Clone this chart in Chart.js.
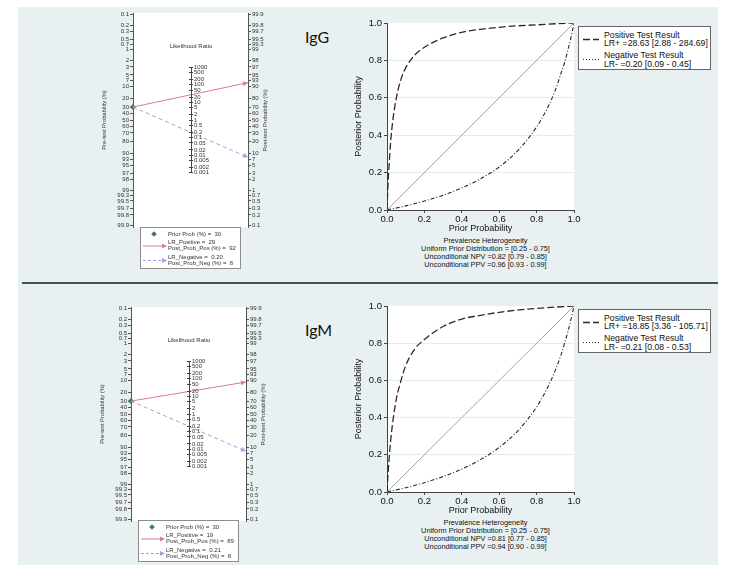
<!DOCTYPE html>
<html><head><meta charset="utf-8">
<script src="https://cdn.jsdelivr.net/npm/chart.js@4.4.1/dist/chart.umd.min.js"></script>
<style>
html,body{margin:0;padding:0;background:#fff;}
body{width:736px;height:577px;position:relative;overflow:hidden;font-family:"Liberation Sans",Arial,sans-serif;color:#111;}
.abs{position:absolute;}
canvas{position:absolute;}
#panel{left:18px;top:7px;width:700px;height:558px;background:#e8f0f2;}
#sep{left:22px;top:282px;width:696px;height:2px;background:#46505a;}
.big{font-family:Lato,"Open Sans",sans-serif;font-size:16px;line-height:18px;color:#111;white-space:nowrap;}
.nbox{background:#fff;border:1px solid #8c8c8c;box-sizing:border-box;}
.nl{position:absolute;font-size:6px;line-height:7px;white-space:pre;color:#333;}
.pbox{background:#fff;border:1px solid #666;box-sizing:border-box;}
.pl{position:absolute;font-size:8.7px;line-height:8px;white-space:pre;color:#111;}
.notes{font-size:7.3px;line-height:8px;text-align:center;white-space:pre;color:#111;}
.small{font-size:6px;line-height:7px;white-space:nowrap;color:#333;text-align:center;}
</style>
</head><body>
<div id="panel" class="abs"></div>
<div id="sep" class="abs"></div>
<script>
// ---------------- DATA ----------------
const panelNames   = ['IgG', 'IgM'];
const priorProb    = [30, 30];          // Prior Prob (%)
const lrPositive   = ['29', '19'];       // LR_Positive (legend)
const postProbPos  = [92, 89];          // Post_Prob_Pos (%)
const lrNegative   = ['0.20', '0.21'];   // LR_Negative (legend)
const postProbNeg  = [8, 8];            // Post_Prob_Neg (%)
const lrPosText    = ['28.63 [2.88 - 284.69]', '18.85 [3.36 - 105.71]'];
const lrNegText    = ['0.20 [0.09 - 0.45]', '0.21 [0.08 - 0.53]'];
const priorDistText= ['[0.25 - 0.75]', '[0.25 - 0.75]'];
const npvText      = ['0.82 [0.79 - 0.85]', '0.81 [0.77 - 0.85]'];
const ppvText      = ['0.96 [0.93 - 0.99]', '0.94 [0.90 - 0.99]'];

const preTestTicks  = [0.1,0.2,0.3,0.5,0.7,1,2,3,5,7,10,20,30,40,50,60,70,80,90,93,95,97,98,99,99.3,99.5,99.7,99.8,99.9];
const postTestTicks = [99.9,99.8,99.7,99.5,99.3,99,98,97,95,93,90,80,70,60,50,40,30,20,10,7,5,3,2,1,0.7,0.5,0.3,0.2,0.1];
const lrTicks       = [1000,500,200,100,50,20,10,5,2,1,0.5,0.2,0.1,0.05,0.02,0.01,0.005,0.002,0.001];

// posterior probability curves
const diagX   = [0, 1];
const diagY   = [0, 1];
const priorPosX = [0, 0.005, 0.01, 0.02, 0.03, 0.05, 0.075, 0.1, 0.15, 0.2, 0.3, 0.4, 0.5, 0.6, 0.7, 0.8, 0.9, 1.0];
const iggPosY   = [0, 0.13, 0.22, 0.37, 0.47, 0.60, 0.70, 0.76, 0.83, 0.87, 0.92, 0.95, 0.966, 0.977, 0.985, 0.99, 0.996, 1];
const igmPosY   = [0, 0.09, 0.16, 0.28, 0.37, 0.50, 0.60, 0.68, 0.77, 0.82, 0.89, 0.93, 0.95, 0.966, 0.978, 0.987, 0.994, 1];
const priorNegX = [0, 0.1, 0.2, 0.3, 0.4, 0.5, 0.6, 0.7, 0.8, 0.85, 0.9, 0.93, 0.95, 0.97, 0.99, 1.0];
const iggNegY   = [0, 0.022, 0.048, 0.079, 0.118, 0.167, 0.23, 0.318, 0.444, 0.53, 0.64, 0.73, 0.79, 0.866, 0.95, 1];
const igmNegY   = [0, 0.023, 0.05, 0.083, 0.123, 0.174, 0.24, 0.329, 0.457, 0.544, 0.654, 0.736, 0.80, 0.872, 0.954, 1];
const posYs = [iggPosY, igmPosY];
const negYs = [iggNegY, igmNegY];
const posteriorStep = 0.2;

// ---------------- LAYOUT ----------------
const FONT = "'Liberation Sans', Arial, Helvetica, sans-serif";
Chart.defaults.font.family = FONT;
const L = [
  {nomoLeft:100, nomoTop:0,   midX:191, nLegLeft:140, nLegTop:227, postTop:10,  postH:225, legTop:26,  notesY:241, bigTop:28},
  {nomoLeft:98,  nomoTop:294, midX:189, nLegLeft:138, nLegTop:520, postTop:293, postH:224, legTop:309, notesY:523, bigTop:321}
];
const NOMO_W = 172, NOMO_H = 240, NOMO_PAD = 13, YR = 7;
const POS = '#e07b8b', NEG = '#a2a2dc', PRIOR = '#3b7d5e';

const logit = p => Math.log(p / (1 - p));
const pts = (xs, ys) => xs.map((x, i) => ({x, y: ys[i]}));

function el(tag, cls, css, html) {
  const e = document.createElement(tag);
  if (cls) e.className = cls;
  Object.assign(e.style, css || {});
  if (html !== undefined) e.innerHTML = html;
  document.body.appendChild(e);
  return e;
}
function canvas(left, top, w, h) {
  const c = el('canvas', '', {left: left + 'px', top: top + 'px'});
  c.width = w; c.height = h;
  return c;
}

const plotBg = {
  id: 'plotBg',
  beforeDraw(chart) {
    const {ctx, chartArea: a} = chart;
    ctx.save(); ctx.fillStyle = '#fff';
    ctx.fillRect(a.left, a.top, a.right - a.left, a.bottom - a.top);
    ctx.restore();
  }
};
const arrowHeads = {
  id: 'arrowHeads',
  afterDatasetsDraw(chart) {
    const ctx = chart.ctx;
    chart.data.datasets.forEach((ds, i) => {
      if (!ds.arrow) return;
      const d = chart.getDatasetMeta(i).data;
      const a = d[d.length - 2], b = d[d.length - 1];
      const ang = Math.atan2(b.y - a.y, b.x - a.x), s = 5;
      ctx.save(); ctx.translate(b.x, b.y); ctx.rotate(ang);
      ctx.beginPath(); ctx.moveTo(0, 0); ctx.lineTo(-s, -s * 0.5); ctx.lineTo(-s, s * 0.5); ctx.closePath();
      ctx.fillStyle = ds.borderColor; ctx.fill(); ctx.restore();
    });
  }
};

const baseOpts = {responsive:false, animation:false, devicePixelRatio:1, events:[],
  plugins:{legend:{display:false}, tooltip:{enabled:false}}};

panelNames.forEach((name, k) => {
  const g = L[k];
  const cy = g.nomoTop + NOMO_PAD + (NOMO_H - 2 * NOMO_PAD) / 2;
  const pxPerUnit = (NOMO_H - 2 * NOMO_PAD) / (2 * YR);

  // ---- Fagan nomogram ----
  const pre = -logit(priorProb[k] / 100);
  new Chart(canvas(g.nomoLeft, g.nomoTop, NOMO_W, NOMO_H), {
    type: 'scatter',
    data: {datasets: [
      {label:'LR_Positive', data:[{x:-1, y:pre}, {x:1, y:logit(postProbPos[k] / 100)}], showLine:true,
       borderColor:POS, borderWidth:1, pointRadius:0, arrow:true, clip:false, yAxisID:'yL'},
      {label:'LR_Negative', data:[{x:-1, y:pre}, {x:1, y:logit(postProbNeg[k] / 100)}], showLine:true,
       borderColor:NEG, borderWidth:1, borderDash:[4,3], pointRadius:0, arrow:true, clip:false, yAxisID:'yL'},
      {label:'Prior Prob', data:[{x:-1, y:pre}], pointStyle:'rectRot', pointRadius:2.8,
       backgroundColor:PRIOR, borderColor:PRIOR, borderWidth:0.5, clip:false, yAxisID:'yL'}
    ]},
    options: Object.assign({}, baseOpts, {
      layout:{padding:{top:NOMO_PAD, bottom:NOMO_PAD, left:0, right:0}},
      scales: {
        x:{type:'linear', display:false, min:-1, max:1},
        yL:{type:'linear', position:'left', min:-YR, max:YR,
          afterBuildTicks:s => { s.ticks = preTestTicks.map(p => ({value:-logit(p / 100)})); },
          afterFit:s => { s.width = 33; },
          ticks:{autoSkip:false, padding:1, color:'#333', font:{size:6}, callback:(v, i) => String(preTestTicks[i])},
          grid:{drawOnChartArea:false, tickLength:3, tickColor:'#555'}, border:{color:'#555'},
          title:{display:true, text:'Pre-test Probability (%)', color:'#333', font:{size:5.8}, padding:{top:1, bottom:0}}},
        yR:{type:'linear', position:'right', min:-YR, max:YR,
          afterBuildTicks:s => { s.ticks = postTestTicks.map(p => ({value:logit(p / 100)})); },
          afterFit:s => { s.width = 24; },
          ticks:{autoSkip:false, padding:1, color:'#333', font:{size:6}, callback:(v, i) => String(postTestTicks[i])},
          grid:{drawOnChartArea:false, tickLength:3, tickColor:'#555'}, border:{color:'#555'}}
      }
    }),
    plugins:[plotBg, arrowHeads]
  });

  // ---- middle likelihood-ratio axis ----
  const lrHalf = Math.log(lrTicks[0]) / 2;
  const midTop = Math.round(cy - lrHalf * pxPerUnit - 10);
  const padT = cy - lrHalf * pxPerUnit - midTop;
  const midH = 126;
  new Chart(canvas(g.midX - 4, midTop, 40, midH), {
    type:'scatter', data:{datasets:[]},
    options: Object.assign({}, baseOpts, {
      layout:{padding:{top:padT, bottom:midH - padT - 2 * lrHalf * pxPerUnit, left:2, right:0}},
      scales:{
        x:{type:'linear', display:false, min:0, max:1},
        y:{type:'linear', position:'right', min:-lrHalf, max:lrHalf,
          afterBuildTicks:s => { s.ticks = lrTicks.map(v => ({value:Math.log(v) / 2})); },
          afterFit:s => { s.width = 36; },
          ticks:{autoSkip:false, padding:1, color:'#333', font:{size:6}, callback:(v, i) => String(lrTicks[i])},
          grid:{color:'#444', tickColor:'#444', tickLength:2, lineWidth:1}, border:{color:'#444'}}
      }
    })
  });
  el('div', 'abs small', {left:(g.midX - 40) + 'px', top:(midTop - 14) + 'px', width:'80px'}, 'Likelihood Ratio');
  el('div', 'abs small', {left:(g.nomoLeft + 165 - 60) + 'px', top:(cy - 3.5) + 'px', width:'120px',
     fontSize:'5.8px', transform:'rotate(-90deg)'}, 'Post-test Probability (%)');

  // ---- nomogram legend ----
  const nb = el('div', 'abs nbox', {left:g.nLegLeft + 'px', top:g.nLegTop + 'px', width:'101px', height:'42px'});
  const add = (top, txt) => { const d = document.createElement('div'); d.className = 'nl';
    d.style.left = '27px'; d.style.top = (top - 3.5) + 'px'; d.textContent = txt; nb.appendChild(d); };
  add(6, 'Prior Prob (%) =  ' + priorProb[k]);
  add(14.5, 'LR_Positive =  ' + lrPositive[k]);
  add(20.5, 'Post_Prob_Pos (%) =  ' + postProbPos[k]);
  add(29.5, 'LR_Negative =  ' + lrNegative[k]);
  add(35.5, 'Post_Prob_Neg (%) =  ' + postProbNeg[k]);
  const sv = document.createElementNS('http://www.w3.org/2000/svg', 'svg');
  sv.setAttribute('width', '30'); sv.setAttribute('height', '40');
  sv.style.position = 'absolute'; sv.style.left = '0px'; sv.style.top = '0px';
  sv.innerHTML =
    `<polygon points="13,3.2 15.8,6 13,8.8 10.2,6" fill="${PRIOR}"/>` +
    `<line x1="2" y1="18" x2="22" y2="18" stroke="${POS}" stroke-width="1"/>` +
    `<polygon points="26,18 21,15.5 21,20.5" fill="${POS}"/>` +
    `<line x1="2" y1="32.5" x2="22" y2="32.5" stroke="${NEG}" stroke-width="1" stroke-dasharray="3 2"/>` +
    `<polygon points="26,32.5 21,30 21,35" fill="${NEG}"/>`;
  nb.appendChild(sv);

  // ---- posterior probability chart ----
  new Chart(canvas(350, g.postTop, 234, g.postH), {
    type:'scatter',
    data:{datasets:[
      {label:'diag', data:pts(diagX, diagY), showLine:true, borderColor:'#8c8c8c', borderWidth:0.8, pointRadius:0},
      {label:'Positive Test Result', data:pts(priorPosX, posYs[k]), showLine:true, borderColor:'#2a2a2a',
       borderWidth:1.3, borderDash:[7,3], pointRadius:0, cubicInterpolationMode:'monotone'},
      {label:'Negative Test Result', data:pts(priorNegX, negYs[k]), showLine:true, borderColor:'#2a2a2a',
       borderWidth:1.1, borderDash:[4,2,1,2], pointRadius:0, cubicInterpolationMode:'monotone'}
    ]},
    options: Object.assign({}, baseOpts, {
      layout:{padding:{top:13, right:10, left:0, bottom:0}},
      scales:{
        x:{type:'linear', min:0, max:1,
          afterFit:s => { s.height = 25; },
          ticks:{stepSize:posteriorStep, autoSkip:false, maxRotation:0, padding:1, color:'#111', font:{size:9.5},
                 callback:v => v.toFixed(1)},
          grid:{drawOnChartArea:false, tickLength:3, tickColor:'#444'}, border:{color:'#444'},
          title:{display:true, text:'Prior Probability', color:'#111', font:{size:9}, padding:{top:0, bottom:0.8}}},
        y:{type:'linear', min:0, max:1,
          afterFit:s => { s.width = 37; },
          ticks:{stepSize:posteriorStep, autoSkip:false, padding:2, color:'#111', font:{size:9.5},
                 callback:v => v.toFixed(1)},
          grid:{color:c => (c.tick && c.tick.value > 0.01 && c.tick.value < 0.99) ? '#e3ecee' : 'rgba(0,0,0,0)',
                tickLength:3, tickColor:'#444'}, border:{color:'#444'},
          title:{display:true, text:'Posterior Probability', color:'#111', font:{size:9}, padding:{top:2.8, bottom:0}}}
      }
    }),
    plugins:[plotBg]
  });

  // ---- posterior legend ----
  const pb = el('div', 'abs pbox', {left:'578px', top:g.legTop + 'px', width:'133px', height:'44px'});
  const addP = (top, txt) => { const d = document.createElement('div'); d.className = 'pl';
    d.style.left = '25px'; d.style.top = (top - 4) + 'px'; d.textContent = txt; pb.appendChild(d); };
  addP(8, 'Positive Test Result');
  addP(16, 'LR+ =' + lrPosText[k]);
  addP(28, 'Negative Test Result');
  addP(36.5, 'LR- =' + lrNegText[k]);
  const sv2 = document.createElementNS('http://www.w3.org/2000/svg', 'svg');
  sv2.setAttribute('width', '24'); sv2.setAttribute('height', '42');
  sv2.style.position = 'absolute'; sv2.style.left = '0px'; sv2.style.top = '0px';
  sv2.innerHTML =
    `<line x1="4" y1="12.5" x2="20" y2="12.5" stroke="#2a2a2a" stroke-width="1.3" stroke-dasharray="7 3"/>` +
    `<line x1="4" y1="32.5" x2="20" y2="32.5" stroke="#2a2a2a" stroke-width="1.1" stroke-dasharray="1 2"/>`;
  pb.appendChild(sv2);

  // ---- notes ----
  el('div', 'abs notes', {left:'385.5px', top:(g.notesY - 4) + 'px', width:'200px'},
    'Prevalence Heterogeneity\nUniform Prior Distribution = ' + priorDistText[k] +
    '\nUnconditional NPV =' + npvText[k] + '\nUnconditional PPV =' + ppvText[k]);

  // ---- panel label ----
  el('div', 'abs big', {left:'305px', top:g.bigTop + 'px'}, name);
});
</script>
</body></html>
